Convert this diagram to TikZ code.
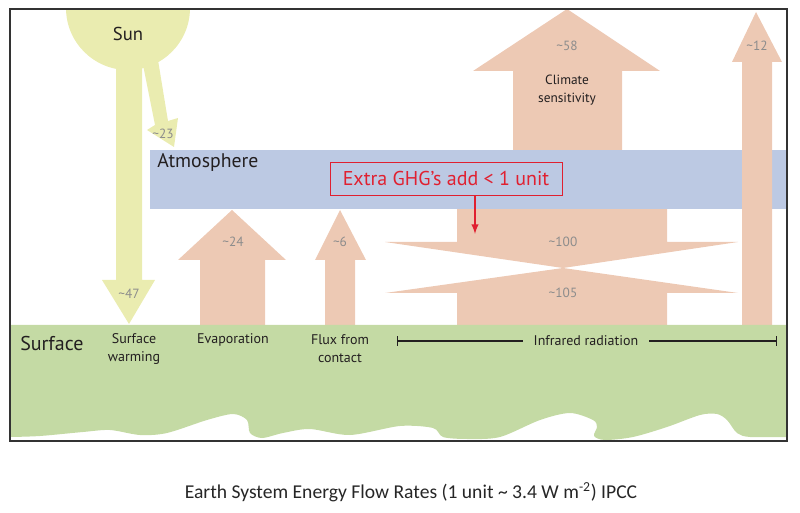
\documentclass[tikz,border=0pt]{standalone}
\usepackage{fontspec}
\setmainfont{PT Sans}
\newfontfamily\captionfont{Carlito}
\usetikzlibrary{positioning}

\definecolor{sunyellow}{HTML}{EAECB0}
\definecolor{flowsalmon}{HTML}{EDC9B4}
\definecolor{atmoblue}{HTML}{BCC9E3}
\definecolor{surfgreen}{HTML}{C4DAA4}
\definecolor{ghgred}{HTML}{E02030}
\definecolor{numgray}{HTML}{8C8C8C}
\definecolor{labeldark}{HTML}{231F20}

\tikzset{
  flownum/.style={text=numgray, font=\fontsize{10}{10}\selectfont},
  flowlabel/.style={text=labeldark, align=center, font=\fontsize{10.5}{10.5}\selectfont},
  layerlabel/.style={text=labeldark, font=\fontsize{14}{14}\selectfont}
}

\begin{document}
\begin{tikzpicture}[x=0.75pt, y=-0.75pt]

\useasboundingbox (0,0) rectangle (800,513);

\begin{scope}
\clip (10,9) rectangle (787,441);

% Draw the sun and its two incoming flows
\fill [sunyellow] (128,8) circle (62);
\fill [sunyellow] (116,60) -- (116,280) -- (102,280) -- (129,324) -- (155,280) -- (142,280) -- (142,60) -- cycle;
\fill [sunyellow] (142,60) -- (155,125) -- (147,130) -- (174,147) -- (178,118) -- (168,121) -- (158,60) -- cycle;

% Draw the climate sensitivity arrow (behind the atmosphere)
\fill [flowsalmon] (513,150) -- (513,71) -- (473,71) -- (567,9) -- (660,71) -- (622,71) -- (622,150) -- cycle;

% Draw the downward infrared arrow (behind the atmosphere)
\fill [flowsalmon] (457,200) -- (457,242) -- (385,242) -- (563,268) -- (738,242) -- (667,242) -- (667,200) -- cycle;

% Draw the atmosphere band
\fill [atmoblue] (150,150) rectangle (787,209);

% Draw the arrows going up from the surface
\fill [flowsalmon] (742,330) -- (742,62) -- (732,62) -- (756,12) -- (782,62) -- (772,62) -- (772,330) -- cycle;
\fill [flowsalmon] (200,330) -- (200,260) -- (178,260) -- (232,210) -- (286,260) -- (265,260) -- (265,330) -- cycle;
\fill [flowsalmon] (325,330) -- (325,260) -- (315,260) -- (340,210) -- (366,260) -- (355,260) -- (355,330) -- cycle;
\fill [flowsalmon] (457,330) -- (457,293) -- (385,293) -- (563,268) -- (738,293) -- (667,293) -- (667,330) -- cycle;

% Draw the surface with its wavy lower edge
\fill [surfgreen] (10,325) -- (787,325) -- plot [smooth, tension=0.5] coordinates {
  (787,437) (750,437) (737,433) (727,420) (717,414) (700,415) (667,427) (633,437)
  (605,440) (594,436) (597,427) (593,420) (570,413) (540,420) (500,437) (467,439)
  (443,437) (433,428) (400,426) (350,435) (310,429) (283,433) (262,438) (250,433)
  (247,420) (233,414) (207,420) (167,433) (140,435) (110,430) (83,432) (40,436) (10,437)
} -- cycle;
\end{scope}

% Draw the outer frame
\draw [line width=1.3pt, black!80] (10,9) rectangle (787,441);

% Layer names
\node [layerlabel] (sun) at (128,34) {Sun};
\node [layerlabel, font=\fontsize{14.8}{14.8}\selectfont, anchor=west, inner sep=0pt] (atmo) at (157,162) {Atmosphere};
\node [layerlabel, font=\fontsize{15}{15}\selectfont, anchor=west, inner sep=0pt] (surface) at (20,343) {Surface};

% Flow values
\node [flownum] (n23) at (163,134) {\textasciitilde 23};
\node [flownum] (n47) at (129,294) {\textasciitilde 47};
\node [flownum] (n24) at (233,242) {\textasciitilde 24};
\node [flownum] (n6) at (340,242) {\textasciitilde 6};
\node [flownum] (n100) at (563,242) {\textasciitilde 100};
\node [flownum] (n105) at (563,293) {\textasciitilde 105};
\node [flownum] (n58) at (567,46) {\textasciitilde 58};
\node [flownum] (n12) at (757,46) {\textasciitilde 12};
\node [flowlabel, font=\fontsize{10}{13}\selectfont] (climate) at (567,90) {Climate\\sensitivity};

% Flow names on the surface
\node [flowlabel, font=\fontsize{10.5}{13.5}\selectfont] (warming) at (134,349) {Surface\\warming};
\node [flowlabel] (evap) at (233,340) {Evaporation};
\node [flowlabel, font=\fontsize{10.5}{13.5}\selectfont] (flux) at (340,349) {Flux from\\contact};
\node [flowlabel, inner xsep=8pt] (ir) at (586,341) {Infrared radiation};
\coordinate (irL) at (397,341);
\coordinate (irR) at (777,341);
\draw [labeldark, line width=1pt, |-] (irL) -- (ir.west);
\draw [labeldark, line width=1pt, -|] (ir.east) -- (irR);

% Extra greenhouse gas note
\node [draw=ghgred, text=ghgred, line width=0.6pt, minimum width=174pt, minimum height=24.75pt,
  font=\fontsize{15}{15}\selectfont] (ghg) at (446,178.5) {Extra GHG’s add < 1 unit};
\coordinate (ghgTip) at (475,234);
\draw [ghgred, line width=1.5pt, ->, >=latex] (ghgTip |- ghg.south) -- (ghgTip);

% Caption
\node [font=\captionfont\fontsize{14.7}{14.7}\selectfont, text=black!85] (caption) at (411,492)
  {Earth System Energy Flow Rates (1 unit \textasciitilde{} 3.4 W m\textsuperscript{-2}) IPCC};

\end{tikzpicture}
\end{document}
